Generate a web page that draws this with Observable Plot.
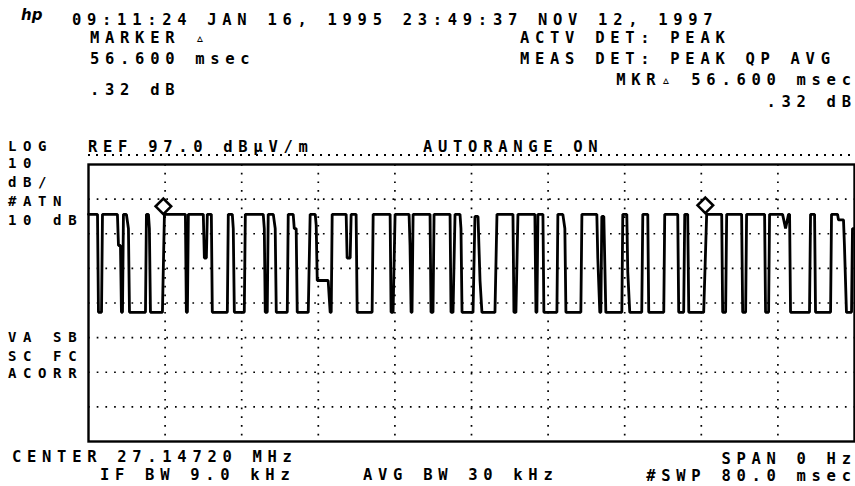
<!DOCTYPE html>
<html><head><meta charset="utf-8">
<script src="https://cdn.jsdelivr.net/npm/d3@7"></script>
<script src="https://cdn.jsdelivr.net/npm/@observablehq/plot@0.6"></script>
<style>
html,body{margin:0;padding:0;background:#fff;overflow:hidden;}
#wrap{position:relative;width:855px;height:486px;overflow:hidden;}
#wrap svg{position:absolute;left:0;top:0;}
.t{position:absolute;font-family:"DejaVu Sans Mono",monospace;font-weight:bold;font-size:15.5px;line-height:12px;letter-spacing:5.7px;white-space:pre;color:#000;}
.t.s{font-size:14px;letter-spacing:6.6px;}
.t span{letter-spacing:0;}
.logo{position:absolute;font-family:"DejaVu Sans",sans-serif;font-weight:bold;font-style:italic;font-size:15px;line-height:12px;color:#000;}
.dots{position:absolute;height:2px;background-image:repeating-linear-gradient(to right,#000 0 2px,transparent 2px 8px);}
</style></head><body><div id="wrap"></div>
<script>
// Sweep time (ms) and detected level (dBµV/m), zero span, 80 ms sweep
const traceTimeMs = [0,0.94,1.04,1.36,1.46,3.02,3.13,3.34,3.44,3.55,3.65,3.96,4.17,4.28,5.95,6.05,6.26,6.36,6.47,7.72,7.93,10.12,10.22,10.33,10.43,11.99,12.10,12.31,12.41,12.83,12.93,14.50,14.60,15.02,15.12,15.23,16.27,16.38,18.25,18.36,18.46,18.67,18.77,19.30,19.50,19.61,20.76,20.86,21.38,21.49,21.69,21.80,22.95,23.15,23.68,23.78,23.89,25.03,25.24,25.35,25.45,26.91,27.01,27.33,27.43,27.95,28.06,29.62,29.73,31.50,31.60,31.81,32.02,33.48,33.58,33.69,33.79,33.90,35.67,35.77,35.98,36.09,37.76,37.86,38.07,38.28,38.80,38.90,39.01,40.16,40.36,40.68,40.89,41.09,42.45,42.66,44.33,44.43,44.64,44.85,46.62,46.73,46.83,46.94,47.46,47.56,48.92,49.02,49.54,49.75,49.86,51.42,51.53,53.09,53.19,53.40,53.51,53.61,53.82,54.03,55.70,55.80,56.22,56.32,56.53,57.78,57.89,58.41,58.51,60.08,60.18,61.54,61.64,62.16,62.27,62.58,62.69,64.25,64.56,66.13,66.23,66.54,66.65,68.21,68.32,68.63,68.73,70.61,70.71,71.03,71.13,72.49,72.80,73.11,73.22,73.32,75.30,75.41,75.83,75.93,77.50,77.60,78.23,78.33,78.85,78.95,79.16,79.69,79.79,80];
const traceLevelDb = [82.6,82.6,54.3,54.3,82.6,82.6,73.6,73.6,54.3,54.3,82.6,82.6,78.5,54.3,54.3,82.6,82.6,78.5,54.3,54.3,82.6,82.6,54.3,54.3,82.6,82.6,70,70,82.6,82.6,54.3,54.3,82.6,82.6,78.5,54.3,54.3,82.6,82.6,78.5,54.3,54.3,82.6,82.6,78.5,54.3,54.3,82.6,82.6,78.5,78.5,54.3,54.3,82.6,82.6,79.5,63.5,63.5,54.3,54.3,82.6,82.6,70,70,82.6,82.6,54.3,54.3,82.6,82.6,54.3,54.3,82.6,82.6,73.6,54.3,54.3,82.6,82.6,54.3,54.3,82.6,82.6,54.3,54.3,82.6,82.6,78.5,54.3,54.3,82,82,63.5,54.3,54.3,82.6,82.6,54.3,54.3,82.6,82.6,54.3,54.3,82.6,82.6,54.3,54.3,82.6,82.6,78.5,54.3,54.3,82.6,82.6,70,54.3,54.3,82,82,54.3,54.3,82.6,82.6,66,54.3,54.3,82.6,82.6,54.3,54.3,82.6,82.6,54.3,54.3,82.6,82.6,54.3,54.3,82.6,82.6,54.3,54.3,82.6,82.6,54.3,54.3,82.6,82.6,54.3,54.3,82.6,82.6,78.5,82.6,82.6,54.3,54.3,82.6,82.6,54.3,54.3,82.6,82.6,81,81,73.6,54.3,54.3,78.5,78.5];

// Marker and delta marker (56.600 msec apart, .32 dB)
const markerTimeMs = [7.82, 64.42];
const markerLevelDb = [82.6, 82.9];

// Graticule: 10 time divisions of 8 ms, 8 level divisions of 10 dB below REF 97.0
const xDomainMs = [0, 80];
const yDomainDb = [17, 97];
const xGridMs = [8,16,24,32,40,48,56,64,72];
const yGridDb = [27,37,47,57,67,77,87];

// Annotation texts
const headerTexts = ["09:11:24 JAN 16, 1995 23:49:37 NOV 12, 1997", "MARKER \u25B5", "56.600 msec", ".32 dB", "ACTV DET: PEAK", "MEAS DET: PEAK QP AVG", "MKR\u25B5 56.600 msec", ".32 dB"];
const leftTexts = ["LOG", "10", "dB/", "#ATN", "10 dB", "VA SB", "SC FC", "ACORR"];
const refTexts = ["REF 97.0 dB\u03BCV/m", "AUTORANGE ON"];
const footerTexts = ["CENTER 27.14720 MHz", "IF BW 9.0 kHz", "AVG BW 30 kHz", "SPAN 0 Hz", "#SWP 80.0 msec"];

const trace = traceTimeMs.map((t, i) => ({t, db: traceLevelDb[i]}));
const markers = markerTimeMs.map((t, i) => ({t, db: markerLevelDb[i]}));

const dotted = {stroke: "#000", strokeOpacity: 1, strokeWidth: 1.7, strokeDasharray: "1.7,7"};
const chart = Plot.plot({
  width: 855, height: 486,
  marginLeft: 88, marginRight: 1, marginTop: 164, marginBottom: 45,
  x: {domain: xDomainMs, axis: null},
  y: {domain: yDomainDb, axis: null},
  marks: [
    Plot.gridX(xGridMs, dotted),
    Plot.gridY(yGridDb, dotted),
    Plot.frame({stroke: "#000", strokeWidth: 2.4}),
    Plot.line(trace, {x: "t", y: "db", stroke: "#000", strokeWidth: 2.8, strokeLinejoin: "miter"}),
    Plot.dot(markers, {x: "t", y: "db", symbol: "diamond2", r: 7, stroke: "#000", strokeWidth: 2.6, fill: "#fff", dy: -8})
  ]
});
const wrap = document.getElementById("wrap");
wrap.appendChild(chart);

// place a text by its left x (or right end x) and baseline y
function addText(s, x, base, right, small) {
  const d = document.createElement("div");
  d.className = small ? "t s" : "t";
  d.appendChild(document.createTextNode(s.slice(0, -1)));
  const last = document.createElement("span");
  last.textContent = s.slice(-1);
  d.appendChild(last);
  d.style.top = (base - 11.3) + "px";
  if (right) d.style.right = (855 - x) + "px"; else d.style.left = x + "px";
  wrap.appendChild(d);
}
const logo = document.createElement("div");
logo.className = "logo"; logo.textContent = "hp"; logo.style.left = "21px"; logo.style.top = "9px";
wrap.appendChild(logo);

addText(headerTexts[0], 72, 25);
addText(headerTexts[1], 90, 43);
addText(headerTexts[2], 90, 64);
addText(headerTexts[3], 90, 95);
addText(headerTexts[4], 520, 43);
addText(headerTexts[5], 520, 64);
addText(headerTexts[6], 851, 85, true);
addText(headerTexts[7], 851, 107, true);

const leftBase = [151, 168, 187, 206, 225, 342, 361, 378];
leftTexts.forEach((s, i) => addText(s, 8, leftBase[i], false, true));

addText(refTexts[0], 88, 152);
addText(refTexts[1], 423, 152);
const dl = document.createElement("div");
dl.className = "dots"; dl.style.left = "88px"; dl.style.width = "767px"; dl.style.top = "154px";
wrap.appendChild(dl);

addText(footerTexts[0], 12, 462);
addText(footerTexts[1], 100, 480);
addText(footerTexts[2], 363, 480);
addText(footerTexts[3], 851, 464, true);
addText(footerTexts[4], 851, 481, true);
</script></body></html>
